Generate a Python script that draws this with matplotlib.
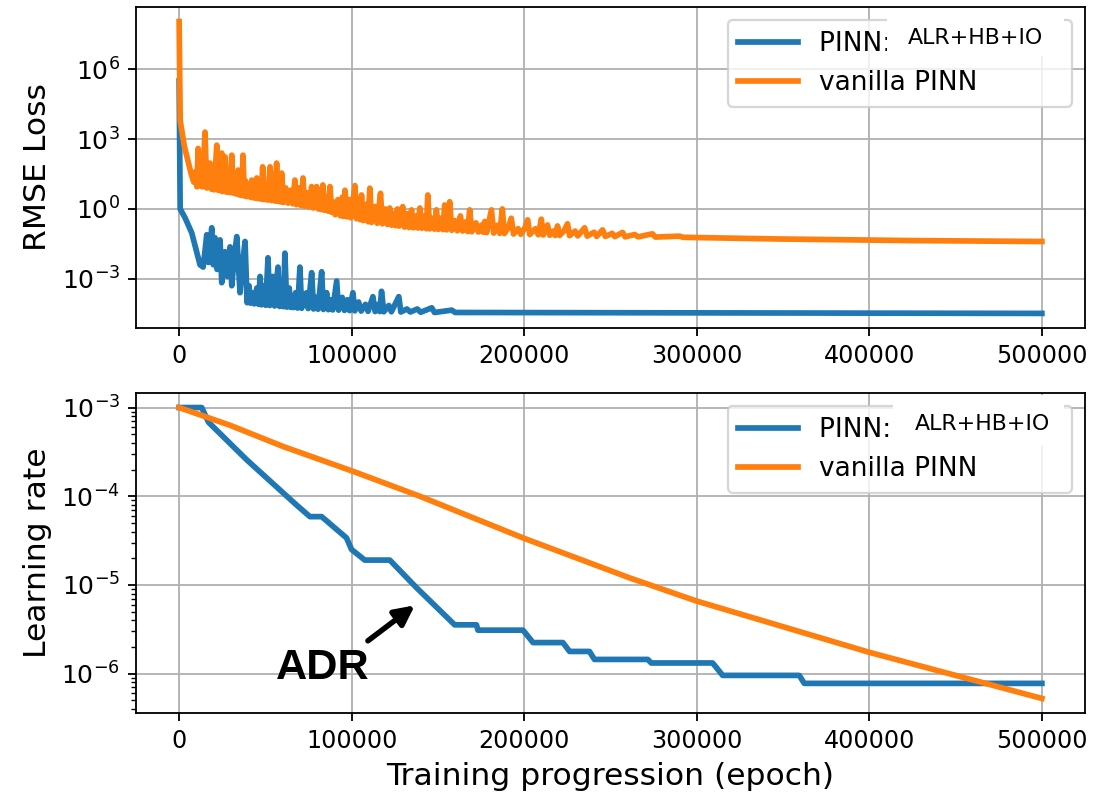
import numpy as np
import matplotlib.pyplot as plt
from matplotlib.patches import Rectangle
from matplotlib.ticker import NullLocator

# ---- data (values stored as log10 exponents) ----
alr_loss_epoch = [0, 600, 3500, 7300, 12100, 13900, 15000, 16000, 17000, 18000,
                  18900, 19800, 20800, 22000, 23000, 23700, 24700, 25600, 26600, 28000,
                  28800, 29500, 30500, 31800, 33400, 35300, 36600, 38200, 39400, 40500,
                  41300, 42500, 43500, 45000, 46000, 46900, 47800, 49000, 50200, 51500,
                  52500, 53500, 54400, 55300, 56300, 57300, 58200, 59500, 60400, 61300,
                  62400, 63800, 64700, 65300, 66200, 67500, 68700, 70000, 71000, 72400,
                  73900, 74800, 75800, 76800, 77900, 79500, 80500, 82600, 83600, 85500,
                  86500, 88000, 89000, 91300, 92400, 94500, 95800, 97500, 98800, 100700,
                  101800, 104000, 105500, 108000, 109500, 112300, 113600, 115500, 116300, 117300,
                  118600, 121500, 123000, 127300, 128500, 132000, 134000, 138000, 140000, 146400,
                  148000, 158000, 160000, 500000]
alr_loss_log = [5.5, 0.0, -0.39, -1.03, -2.4, -2.5, -1.8, -1.11, -2.3, -1.5,
                -0.81, -2.4, -1.24, -2.6, -2.0, -1.33, -3.17, -2.2, -1.84, -2.9,
                -2.3, -1.63, -3.3, -2.2, -1.19, -3.6, -2.5, -1.4, -4.03, -3.3,
                -4.05, -3.6, -4.08, -3.4, -4.1, -2.9, -4.12, -3.3, -4.14, -2.1,
                -4.15, -3.5, -2.9, -4.17, -3.3, -2.5, -4.19, -3.4, -4.2, -1.9,
                -4.22, -3.4, -4.23, -3.9, -4.24, -3.6, -4.26, -2.5, -4.27, -3.7,
                -3.6, -4.28, -3.5, -2.74, -4.3, -3.8, -4.31, -2.7, -4.32, -3.6,
                -4.33, -3.9, -4.34, -3.1, -4.35, -3.8, -4.36, -3.9, -4.37, -3.6,
                -4.38, -4.0, -4.39, -4.1, -4.4, -3.77, -4.41, -4.1, -4.41, -3.54,
                -4.42, -4.15, -4.42, -3.77, -4.43, -4.3, -4.43, -4.3, -4.44, -4.25,
                -4.45, -4.35, -4.45, -4.49]

van_loss_epoch = [0, 600, 3000, 5000, 7000, 8500, 9500, 10300, 11000, 11800,
                  12600, 13400, 15000, 16000, 16800, 17900, 18800, 19600, 20300, 21800,
                  22600, 23300, 24000, 24700, 25300, 26600, 27400, 28600, 29400, 30500,
                  31300, 32400, 33200, 34200, 35000, 35800, 36400, 37000, 37800, 38500,
                  39200, 40600, 41400, 42100, 42900, 43800, 44400, 45000, 45800, 46800,
                  47600, 48400, 49200, 50500, 51300, 52700, 53500, 54600, 55500, 56500,
                  57300, 58300, 59000, 59400, 60500, 61800, 63100, 64500, 65800, 67100,
                  68000, 69500, 70500, 71800, 72700, 74000, 75200, 76800, 77800, 78600,
                  79700, 80600, 81800, 82500, 83300, 84300, 85500, 86500, 87400, 88500,
                  89500, 90500, 92000, 93500, 94500, 95300, 96100, 97200, 98500, 99500,
                  101900, 102800, 104000, 104900, 105700, 106700, 108500, 109500, 110500, 111500,
                  113500, 114800, 116700, 117800, 119500, 120800, 122100, 123200, 124500, 125500,
                  126500, 127500, 128600, 129600, 130600, 132000, 133200, 134700, 135700, 137300,
                  138300, 139500, 140600, 142200, 143300, 144100, 145200, 146800, 148000, 149100,
                  150200, 151800, 152900, 153900, 155000, 156800, 158000, 159800, 161200, 163000,
                  164300, 166200, 167200, 168400, 169600, 172000, 173400, 175200, 176200, 177100,
                  178200, 181000, 182300, 184500, 185800, 187300, 188500, 190800, 192500, 193800,
                  196500, 198000, 200500, 202000, 203200, 206500, 208200, 209900, 211000, 213500,
                  214800, 217000, 218000, 219300, 220500, 223000, 225100, 226300, 229500, 231000,
                  235000, 236500, 240500, 242000, 245400, 247000, 251000, 252500, 257000, 258500,
                  264000, 266000, 274300, 276000, 290000, 292000, 345900, 424800, 500000]
van_loss_log = [8.05, 3.8, 2.7, 2.1, 1.5, 1.15, 1.6, 0.95, 2.6, 1.0,
                2.2, 0.95, 3.3, 0.9, 1.8, 1.97, 0.85, 1.5, 0.82, 2.74,
                0.8, 1.6, 0.78, 2.4, 0.75, 2.24, 0.72, 1.4, 0.7, 2.31,
                0.68, 1.3, 0.64, 1.67, 0.6, 1.1, 0.58, 2.31, 0.56, 1.2,
                0.53, 0.9, 0.5, 1.24, 0.48, 0.9, 0.46, 1.33, 0.44, 0.95,
                0.42, 1.81, 0.4, 1.0, 0.38, 1.81, 0.36, 1.5, 0.34, 1.97,
                0.32, 1.3, 0.3, 1.54, 0.28, 0.9, 0.25, 0.8, 0.22, 1.24,
                0.18, 0.9, 0.15, 1.33, 0.12, 0.7, 0.08, 0.96, 0.04, 0.5,
                0.96, 0.0, 0.6, -0.03, 1.03, -0.06, 0.5, -0.1, 0.96, -0.15,
                0.3, -0.25, 0.4, -0.3, 0.5, -0.32, 0.8, -0.34, 0.4, -0.38,
                1.0, -0.42, 0.3, -0.46, 0.6, -0.5, 0.2, -0.55, 0.89, -0.58,
                0.1, -0.62, 0.67, -0.64, 0.0, -0.67, 0.04, -0.7, -0.2, -0.72,
                0.0, -0.74, -0.2, 0.1, -0.78, -0.2, -0.8, -0.04, -0.81, -0.3,
                -0.82, 0.04, -0.83, -0.3, -0.85, 0.6, -0.86, -0.4, -0.87, -0.04,
                -0.88, -0.4, -0.89, 0.17, -0.9, 0.31, -0.92, -0.5, -0.94, -0.3,
                -0.95, -0.55, -0.97, -0.04, -0.98, -0.6, -0.99, -0.7, -1.0, -0.54,
                -1.02, -0.04, -1.04, -0.7, -1.05, 0.0, -1.06, -0.8, -0.4, -1.08,
                -0.85, -1.09, -0.8, -0.47, -1.1, -0.85, -1.11, -0.44, -1.12, -0.69,
                -1.13, -0.95, -1.14, -0.73, -1.14, -0.95, -0.64, -1.15, -0.95, -1.16,
                -0.81, -1.17, -1.0, -1.18, -0.9, -1.18, -1.05, -1.19, -1.01, -1.2,
                -1.1, -1.2, -1.07, -1.21, -1.17, -1.22, -1.29, -1.36, -1.4]

alr_lr_epoch = [0, 13100, 17000, 39200, 68100, 75800, 82600, 97000, 99900, 107600,
                122100, 137500, 159700, 172300, 173200, 199300, 205100, 222400, 226300, 237800,
                240700, 271600, 273600, 309200, 315000, 359400, 362300, 500000]
alr_lr_log = [-3.0, -3.0, -3.165, -3.59, -4.1, -4.23, -4.23, -4.47, -4.6, -4.72,
              -4.72, -5.03, -5.45, -5.45, -5.51, -5.51, -5.65, -5.65, -5.75, -5.75,
              -5.84, -5.84, -5.88, -5.88, -6.02, -6.02, -6.11, -6.11]

van_lr_epoch = [0, 29500, 60400, 100900, 139500, 199300, 261000, 299600, 400000, 500000]
van_lr_log = [-3.0, -3.2, -3.44, -3.72, -4.0, -4.47, -4.92, -5.18, -5.76, -6.28]

loss_ticks = [1e-3, 1e0, 1e3, 1e6]

label_alr = "PINN: ALR+HB+IO"
label_van = "vanilla PINN"

W, H, DPI = 1096, 801, 164
fig = plt.figure(figsize=(W / DPI, H / DPI), dpi=DPI)

def px_box(x0, y0, x1, y1):
    return [x0 / W, 1 - y1 / H, (x1 - x0) / W, (y1 - y0) / H]

ax1 = fig.add_axes(px_box(136, 7, 1085, 328))
ax2 = fig.add_axes(px_box(136, 393, 1085, 713))

lw = 2.5
lab_fs = 13.8
leg_kw = dict(loc="upper right", fontsize=11.6, handlelength=2.25)

ax1.plot(alr_loss_epoch, 10 ** np.array(alr_loss_log), color="tab:blue", lw=lw, label=label_alr)
ax1.plot(van_loss_epoch, 10 ** np.array(van_loss_log), color="tab:orange", lw=lw, label=label_van)
ax1.set_yscale("log")
ax1.set_yticks(loss_ticks)
ax1.yaxis.set_minor_locator(NullLocator())
ax1.set_ylabel("RMSE Loss", fontsize=lab_fs)
ax1.grid(True)
ax1.legend(**leg_kw)

ax2.plot(alr_lr_epoch, 10 ** np.array(alr_lr_log), color="tab:blue", lw=lw, label=label_alr)
ax2.plot(van_lr_epoch, 10 ** np.array(van_lr_log), color="tab:orange", lw=lw, label=label_van)
ax2.set_yscale("log")
ax2.set_ylabel("Learning rate", fontsize=lab_fs)
ax2.set_xlabel("Training progression (epoch)", fontsize=lab_fs)
ax2.grid(True)
ax2.legend(**leg_kw)

for ax in (ax1, ax2):
    ax.tick_params(axis="x", labelsize=10.5)
    ax.tick_params(axis="y", labelsize=11)

ax2.annotate("", xy=(136600, 10 ** -5.23), xytext=(109400, 10 ** -5.63),
             arrowprops=dict(arrowstyle="-|>", color="black", lw=2.4,
                             mutation_scale=18, shrinkA=0, shrinkB=0))
ax2.text(83500, 10 ** -5.94, "ADR", fontsize=19, fontweight="bold",
         family="Liberation Sans", ha="center", va="center")

# white patches with the method name pasted over the legend entries
for (x0, y0, x1, y1), (tx, ty) in [((887, 8, 1064, 56), (975, 38)),
                                   ((893, 395, 1064, 446), (982, 424))]:
    fig.add_artist(Rectangle((x0 / W, 1 - y1 / H), (x1 - x0) / W, (y1 - y0) / H,
                             transform=fig.transFigure, facecolor="white",
                             edgecolor="none", zorder=10))
    fig.text(tx / W, 1 - ty / H, "ALR+HB+IO", fontsize=9.7,
             ha="center", va="center", zorder=11)

fig.savefig("out.png", dpi=DPI)
